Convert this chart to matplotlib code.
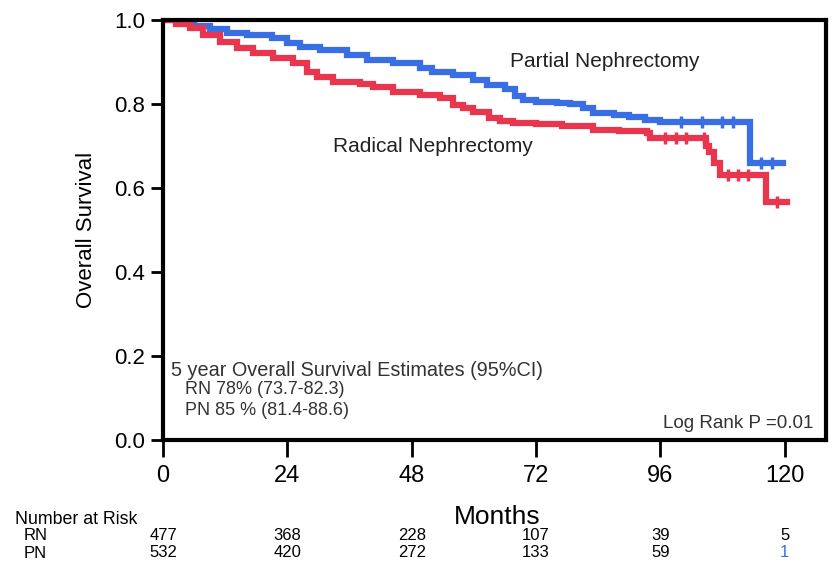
import matplotlib
matplotlib.use("Agg")
import matplotlib.pyplot as plt

# Kaplan-Meier step points (months, survival)
pn_t = [0, 3, 6, 9, 12.4, 16.2, 21, 24, 26.5, 30.3, 35.5, 39.4, 44.4, 49.6, 52, 56, 59.9, 62.6, 66, 68, 69.5, 72,
        76, 78.6, 81, 83, 87, 90, 93, 96, 113.3, 119.7]
pn_s = [1.0, 0.993, 0.985, 0.978, 0.969, 0.964, 0.957, 0.945, 0.936, 0.929, 0.917, 0.905, 0.897, 0.886, 0.876, 0.869,
        0.857, 0.845, 0.835, 0.82, 0.81, 0.805, 0.802, 0.80, 0.79, 0.778, 0.774, 0.77, 0.762, 0.757, 0.66, 0.66]
rn_t = [0, 2.5, 5.2, 7.7, 11, 14.3, 17.4, 21.2, 25.1, 27.8, 29.7, 32.8, 38, 40.5, 44.4, 49.6, 53.5, 56, 58, 59.9, 63,
        65, 67.6, 72, 77, 83, 88, 93.4, 94, 104.8, 105.5, 106.3, 107.5, 116.5, 120.5]
rn_s = [1.0, 0.99, 0.98, 0.964, 0.948, 0.933, 0.921, 0.91, 0.897, 0.876, 0.864, 0.852, 0.848, 0.84, 0.829, 0.821,
        0.814, 0.798, 0.79, 0.781, 0.767, 0.76, 0.755, 0.752, 0.748, 0.738, 0.735, 0.73, 0.718, 0.70, 0.685, 0.66,
        0.632, 0.567, 0.567]

# censored observations in the sparse tail
pn_cens_t = [100, 104, 108, 110, 115.5, 117.5]
pn_cens_s = [0.757, 0.757, 0.757, 0.757, 0.66, 0.66]
rn_cens_t = [97, 99, 101, 104.5, 109, 111, 113, 118.5]
rn_cens_s = [0.718, 0.718, 0.718, 0.718, 0.632, 0.632, 0.632, 0.567]

risk_times = [0, 24, 48, 72, 96, 120]
rn_risk = [477, 368, 228, 107, 39, 5]
pn_risk = [532, 420, 272, 133, 59, 1]

blue = '#3a6fe3'
red = '#e8364f'
grey = '#333333'

plt.rcParams['font.family'] = ['Liberation Sans', 'DejaVu Sans']

fig = plt.figure(figsize=(8.36, 5.68), dpi=100)
ax = fig.add_axes([0.195, 0.2254, 0.793, 0.7394])

ax.step(pn_t, pn_s, where='post', color=blue, lw=4.5, solid_joinstyle='miter')
ax.step(rn_t, rn_s, where='post', color=red, lw=4.5, solid_joinstyle='miter')
ax.plot(pn_cens_t, pn_cens_s, ls='none', marker='|', ms=8, mew=2.5, color=blue)
ax.plot(rn_cens_t, rn_cens_s, ls='none', marker='|', ms=8, mew=2.5, color=red)

ax.set_xlim(0, 128)
ax.set_ylim(0, 1.0)
ax.set_xticks(risk_times)
ax.set_yticks([0, 0.2, 0.4, 0.6, 0.8, 1.0])
ax.set_yticklabels(['0.0', '0.2', '0.4', '0.6', '0.8', '1.0'])
ax.tick_params(axis='x', direction='out', length=12, width=2, labelsize=17, pad=6)
ax.tick_params(axis='y', direction='out', length=9, width=2, labelsize=16, pad=4)
for sp in ax.spines.values():
    sp.set_linewidth(3)
ax.set_ylabel('Overall Survival', fontsize=16, labelpad=12)

ax.text(67, 0.902, 'Partial Nephrectomy', fontsize=15, color='#222222', va='center')
ax.text(32.8, 0.698, 'Radical Nephrectomy', fontsize=15, color='#222222', va='center')

ax.text(1.5, 0.166, '5 year Overall Survival Estimates (95%CI)', fontsize=14.3, color=grey, va='center')
ax.text(4.2, 0.119, 'RN 78% (73.7-82.3)', fontsize=13, color=grey, va='center')
ax.text(4.2, 0.071, 'PN 85 % (81.4-88.6)', fontsize=13, color=grey, va='center')
ax.text(125.5, 0.04, 'Log Rank P =0.01', fontsize=13.6, color=grey, va='center', ha='right')

# number-at-risk table under the axis
fig.text(497 / 836, 1 - 517 / 568, 'Months', fontsize=19, ha='center', va='center')
fig.text(15 / 836, 1 - 519 / 568, 'Number at Risk', fontsize=12.8, va='center')
fig.text(24 / 836, 1 - 536 / 568, 'RN', fontsize=12, va='center')
fig.text(24 / 836, 1 - 553 / 568, 'PN', fontsize=12, va='center')
trans = ax.get_xaxis_transform()
for t, r, p in zip(risk_times, rn_risk, pn_risk):
    ax.text(t, -0.227, str(r), transform=trans, fontsize=12, ha='center', va='center', clip_on=False)
    ax.text(t, -0.268, str(p), transform=trans, fontsize=12, ha='center', va='center', clip_on=False,
            color=blue if t == 120 else 'black')

fig.savefig('out.png', dpi=100)
